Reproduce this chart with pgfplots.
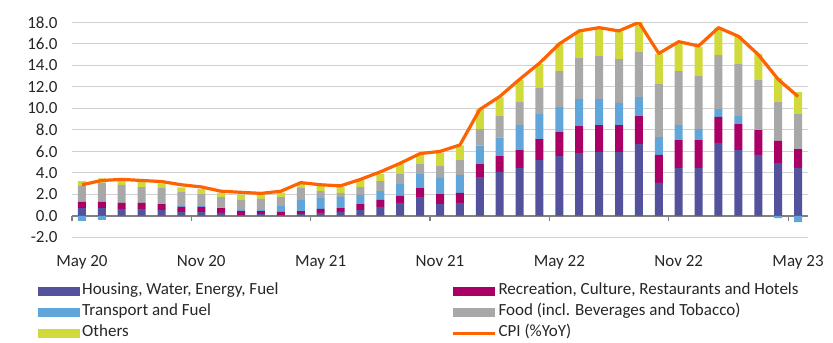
\documentclass[border=0pt]{standalone}
\usepackage{fontspec}
\setmainfont{Carlito}
\usepackage{pgfplots}
\pgfplotsset{compat=1.18}
\usepackage{pgfplotstable}

\definecolor{cHous}{RGB}{84,82,156}
\definecolor{cRec}{RGB}{170,0,102}
\definecolor{cTran}{RGB}{96,166,218}
\definecolor{cFood}{RGB}{168,168,168}
\definecolor{cOth}{RGB}{209,218,59}
\definecolor{cCPI}{RGB}{255,98,0}

\pgfplotsset{
  barlegend/.style={legend image code/.code={\fill[##1] (0bp,-4.5bp) rectangle (42bp,4.5bp);}},
  linelegend/.style={legend image code/.code={\draw[##1] (0bp,0bp) -- (42bp,0bp);}},
}

\pgfplotstableread{
x H R T Tn F O cpi
0 0.74 0.56 0 -0.46 1.55 0.40 2.9
1 0.74 0.56 0 -0.37 1.80 0.40 3.3
2 0.65 0.56 0 0 1.67 0.37 3.4
3 0.65 0.56 0 0 1.48 0.47 3.3
4 0.56 0.55 0 0 1.49 0.43 3.2
5 0.37 0.47 0.09 0 1.30 0.43 2.9
6 0.37 0.47 0.09 0 1.11 0.46 2.7
7 0.28 0.46 0.05 0 0.97 0.41 2.3
8 0.09 0.37 0.10 0 0.93 0.49 2.2
9 0.19 0.27 0.10 0 1.02 0.46 2.1
10 0.09 0.28 0.56 0 0.83 0.41 2.3
11 0.19 0.27 1.03 0 1.11 0.37 3.1
12 0.28 0.37 1.02 0 0.65 0.47 2.9
13 0.37 0.37 1.02 0 0.38 0.55 2.8
14 0.56 0.55 0.84 0 0.74 0.65 3.4
15 0.84 0.65 0.83 0 0.93 0.65 4.1
16 1.21 0.65 1.11 0 0.93 0.93 4.9
17 1.76 0.84 1.30 0 0.93 0.84 5.8
18 1.11 0.93 1.49 0 1.11 1.24 6.0
19 1.21 0.93 1.67 0 1.39 1.36 6.6
20 3.62 1.21 1.70 0 1.55 1.83 9.9
21 4.09 1.48 1.71 0 2.01 1.73 11.1
22 4.46 1.67 2.32 0 2.14 2.04 12.7
23 5.20 1.95 2.32 0 2.42 2.23 14.2
24 5.57 2.23 2.32 0 3.35 2.51 16.0
25 5.85 2.51 2.51 0 3.80 2.42 17.2
26 5.94 2.51 2.42 0 3.99 2.51 17.5
27 5.94 2.51 2.05 0 4.08 2.51 17.2
28 6.69 2.60 1.76 0 4.18 2.76 18.0
29 3.07 2.60 1.67 0 4.92 2.79 15.1
30 4.46 2.60 1.39 0 5.02 2.51 16.2
31 4.46 2.60 1.02 0 4.92 2.70 15.8
32 6.78 2.42 0.74 0 5.01 2.51 17.5
33 6.13 2.41 0.75 0 4.83 2.60 16.7
34 5.67 2.32 0 0 4.64 2.42 15.0
35 4.92 2.05 0 -0.19 3.62 2.23 12.7
36 4.46 1.76 0 -0.56 3.25 2.05 11.1
}\datatable

\begin{document}
\fontsize{17bp}{20bp}\selectfont
\begin{tikzpicture}
\useasboundingbox (-72bp,-105.5bp) rectangle (761bp,237.5bp);
\begin{axis}[
  width=736bp, height=215.2bp, scale only axis,
  xmin=-0.5, xmax=36.5, ymin=-2, ymax=18,
  ybar stacked, bar width=8bp,
  axis x line=middle, axis y line=left,
  axis line style={-},
  x axis line style={-, draw=black!50, line width=1.2bp},
  y axis line style={draw=none},
  xtick={0,6,12,18,24,30,36},
  xticklabels={May 20,Nov 20,May 21,Nov 21,May 22,Nov 22,May 23},
  major x tick style={draw=none},
  minor xtick={-0.5,5.5,11.5,17.5,23.5,29.5,35.5},
  minor x tick style={draw=black!50, line width=1.2bp},
  minor tick length=5bp,
  xtick align=outside,
  hide obscured x ticks=false,
  ytick={-2,0,2,4,6,8,10,12,14,16,18},
  major y tick style={draw=none},
  ymajorgrids, grid style={draw=black!18, line width=0.9bp},
  /pgf/number format/assume math mode=true,
  yticklabel style={/pgf/number format/.cd, fixed, fixed zerofill, precision=1, /tikz/.cd, anchor=east, xshift=-6.5bp},
  xticklabel style={anchor=base, yshift=-46.5bp},
  tick label style={text=black!85},
  legend columns=2,
  legend cell align=left,
  legend style={draw=none, fill=none, at={(axis description cs:0,0)}, anchor=north west,
    xshift=-34bp, yshift=-44bp, inner sep=0pt, row sep=2.3bp,
    nodes={inner xsep=2bp, inner ysep=0bp, text height=13bp, text depth=5.7bp, text=black!85},
    /tikz/every even column/.append style={column sep=171bp}},
]
\addplot[fill=cHous, draw=none, barlegend] table[x=x,y=H]{\datatable};
\addlegendentry{Housing, Water, Energy, Fuel}
\addplot[fill=cRec, draw=none, barlegend] table[x=x,y=R]{\datatable};
\addlegendentry{Recreation, Culture, Restaurants and Hotels}
\addplot[fill=cTran, draw=none, barlegend] table[x=x,y=T]{\datatable};
\addlegendentry{Transport and Fuel}
\addplot[fill=cFood, draw=none, barlegend] table[x=x,y=F]{\datatable};
\addlegendentry{Food (incl. Beverages and Tobacco)}
\addplot[fill=cOth, draw=none, barlegend] table[x=x,y=O]{\datatable};
\addlegendentry{Others}
\addlegendimage{linelegend, draw=cCPI, line width=3bp}
\addlegendentry{CPI (\%YoY)}
\end{axis}
\begin{axis}[
  width=736bp, height=215.2bp, scale only axis,
  xmin=-0.5, xmax=36.5, ymin=-2, ymax=18,
  hide axis,
]
\addplot[ybar, bar width=8bp, bar shift=0pt, fill=cTran, draw=none] table[x=x,y=Tn]{\datatable};
\addplot[draw=cCPI, line width=3.2bp, line join=round, mark=none] table[x=x,y=cpi]{\datatable};
\end{axis}
\end{tikzpicture}
\end{document}
